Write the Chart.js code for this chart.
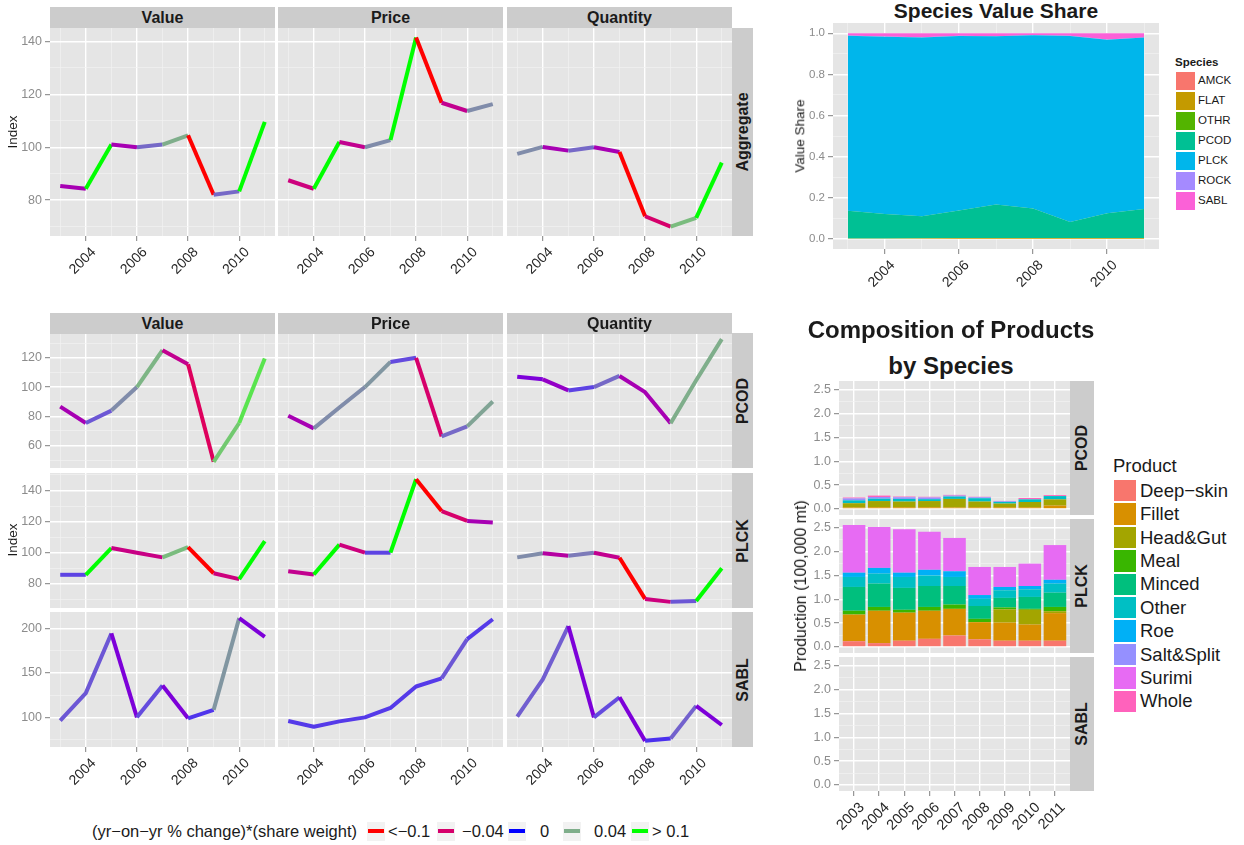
<!DOCTYPE html>
<html>
<head>
<meta charset="utf-8">
<title>Fishery indices</title>
<script src="https://cdn.jsdelivr.net/npm/chart.js@4.4.1/dist/chart.umd.min.js"></script>
<style>
  body { margin: 0; width: 1244px; height: 845px; position: relative; overflow: hidden; background: #fff;
         font-family: "Liberation Sans", Arial, Helvetica, sans-serif; }
  canvas { position: absolute; }
  .txt { position: absolute; line-height: 1; white-space: nowrap; color: #1a1a1a; }
  .box { position: absolute; }
</style>
</head>
<body>
<script>
const years = [2003, 2004, 2005, 2006, 2007, 2008, 2009, 2010, 2011];

// index series (2006 = 100); the W arrays are the segment weights (yr-on-yr % change)*(share weight)
const aggValue = [85.3, 84.3, 101.0, 100.0, 101.0, 104.5, 82.0, 83.3, 109.6];
const aggValueW = [-0.02, 0.12, -0.02, 0.02, 0.04, -0.12, 0.02, 0.12];
const aggPrice = [87.5, 84.3, 102.0, 100.0, 102.7, 141.5, 116.8, 113.7, 116.3];
const aggPriceW = [-0.035, 0.12, -0.03, 0.03, 0.12, -0.12, -0.03, 0.03];
const aggQuantity = [97.5, 100.1, 98.7, 100.0, 98.2, 73.9, 70.0, 73.3, 94.2];
const aggQuantityW = [0.03, -0.02, 0.02, -0.02, -0.12, -0.04, 0.05, 0.12];

const pcodValue = [86.6, 75.4, 83.9, 100.0, 125.2, 115.6, 48.8, 75.4, 119.5];
const pcodValueW = [-0.02, 0.015, 0.03, 0.045, -0.03, -0.05, 0.06, 0.08];
const pcodPrice = [80.4, 71.7, 86.0, 100.0, 117.2, 120.0, 66.2, 73.1, 90.1];
const pcodPriceW = [-0.02, 0.03, 0.03, 0.033, 0.012, -0.04, 0.02, 0.037];
const pcodQuantity = [107.1, 105.3, 97.7, 100.0, 107.6, 96.5, 75.2, 104.6, 132.8];
const pcodQuantityW = [-0.01, -0.015, 0.01, 0.02, -0.02, -0.02, 0.04, 0.04];

const plckValue = [85.8, 85.8, 103.0, 100.0, 97.0, 103.6, 86.8, 83.0, 107.5];
const plckValueW = [0.01, 0.12, -0.033, -0.033, 0.05, -0.12, -0.035, 0.12];
const plckPrice = [88.1, 86.0, 105.2, 100.0, 100.0, 147.3, 126.8, 120.4, 119.4];
const plckPriceW = [-0.03, 0.12, -0.035, 0.01, 0.12, -0.12, -0.04, -0.02];
const plckQuantity = [97.0, 99.7, 98.0, 100.0, 96.8, 70.3, 68.4, 69.0, 90.0];
const plckQuantityW = [0.03, -0.025, 0.025, -0.03, -0.12, -0.035, 0.015, 0.12];

const sablValue = [96.3, 127.2, 194.3, 100.0, 135.9, 98.9, 108.4, 211.5, 190.5];
const sablValueW = [0.015, 0.015, -0.01, 0.012, -0.01, 0.007, 0.033, -0.01];
const sablPrice = [95.9, 89.5, 95.5, 100.0, 110.6, 134.7, 143.8, 187.9, 210.2];
const sablPriceW = [0.008, 0.008, 0.008, 0.008, 0.008, 0.008, 0.015, 0.008];
const sablQuantity = [100.8, 142.6, 202.6, 100.0, 122.6, 73.6, 76.2, 112.9, 91.4];
const sablQuantityW = [0.017, 0.017, -0.01, 0.012, -0.01, 0.006, 0.018, -0.01];

const aggTicks = [70, 80, 90, 100, 110, 120, 130, 140];
const pcodTicks = [50, 60, 70, 80, 90, 100, 110, 120, 130];
const plckTicks = [70, 80, 90, 100, 110, 120, 130, 140, 150];
const sablTicks = [75, 100, 125, 150, 175, 200];

const changeBreaks = [-0.1, -0.04, 0, 0.04, 0.1];
const changeColours = ['#FF0000', '#D6006B', '#0000FF', '#7FAE8B', '#00FF00'];
const changeLabels = ['<\u22120.1', '\u22120.04', '0', '0.04', '> 0.1'];

// species value share
const species = ['AMCK', 'FLAT', 'OTHR', 'PCOD', 'PLCK', 'ROCK', 'SABL'];
const speciesColours = ['#F8766D', '#C49A00', '#53B400', '#00C094', '#00B6EB', '#A58AFF', '#FB61D7'];
const shareAMCK = [0, 0, 0, 0, 0, 0, 0, 0, 0];
const shareFLAT = [0.001, 0.001, 0.002, 0.004, 0.004, 0.003, 0.003, 0.004, 0.004];
const shareOTHR = [0, 0, 0, 0, 0, 0, 0, 0, 0];
const sharePCOD = [0.135, 0.119, 0.108, 0.133, 0.162, 0.144, 0.079, 0.120, 0.141];
const sharePLCK = [0.852, 0.863, 0.870, 0.850, 0.819, 0.843, 0.905, 0.845, 0.834];
const shareROCK = [0.001, 0.001, 0.001, 0.001, 0.001, 0.001, 0.001, 0.001, 0.001];
const shareSABL = [0.011, 0.016, 0.019, 0.012, 0.014, 0.009, 0.012, 0.030, 0.020];
const shareTicks = [0, 0.1, 0.2, 0.3, 0.4, 0.5, 0.6, 0.7, 0.8, 0.9, 1.0];

// production by product (100,000 mt), rows follow `products`
const products = ['Deep\u2212skin', 'Fillet', 'Head&Gut', 'Meal', 'Minced', 'Other', 'Roe', 'Salt&Split', 'Surimi', 'Whole'];
const productColours = ['#F8766D', '#D89000', '#A3A500', '#39B600', '#00BF7D', '#00BFC4', '#00B0F6', '#9590FF', '#E76BF3', '#FF62BC'];
const pcodProduction = [
  [0, 0, 0, 0, 0, 0, 0, 0, 0],
  [0.03, 0.035, 0.035, 0.035, 0.03, 0.035, 0.035, 0.035, 0.07],
  [0.09, 0.13, 0.12, 0.13, 0.18, 0.12, 0.077, 0.11, 0.13],
  [0, 0, 0, 0, 0, 0, 0, 0, 0],
  [0, 0, 0, 0, 0, 0, 0, 0, 0],
  [0.06, 0.05, 0.055, 0.04, 0.05, 0.07, 0.035, 0.056, 0.07],
  [0, 0, 0, 0, 0, 0, 0, 0, 0],
  [0.04, 0.035, 0.035, 0.035, 0.02, 0.02, 0.014, 0, 0],
  [0, 0, 0, 0, 0, 0, 0, 0, 0],
  [0.02, 0.03, 0.015, 0.015, 0.015, 0.01, 0.007, 0.028, 0.02]
];
const plckProduction = [
  [0.12, 0.08, 0.13, 0.17, 0.24, 0.16, 0.13, 0.13, 0.13],
  [0.56, 0.68, 0.59, 0.59, 0.56, 0.36, 0.38, 0.34, 0.58],
  [0, 0, 0, 0, 0, 0, 0.28, 0.31, 0.04],
  [0.08, 0.08, 0.06, 0.08, 0.09, 0.07, 0.04, 0.02, 0.09],
  [0.50, 0.49, 0.46, 0.44, 0.39, 0.27, 0.20, 0.25, 0.30],
  [0.21, 0.21, 0.23, 0.22, 0.19, 0.15, 0.16, 0.16, 0.19],
  [0.09, 0.12, 0.09, 0.12, 0.12, 0.08, 0.07, 0.07, 0.08],
  [0, 0, 0, 0, 0, 0, 0, 0, 0],
  [1.00, 0.86, 0.91, 0.80, 0.70, 0.59, 0.42, 0.47, 0.73],
  [0, 0, 0, 0, 0, 0, 0, 0, 0]
];
const sablProduction = [
  [0, 0, 0, 0, 0, 0, 0, 0, 0],
  [0, 0, 0, 0, 0, 0, 0, 0, 0],
  [0, 0, 0, 0, 0, 0, 0, 0, 0],
  [0, 0, 0, 0, 0, 0, 0, 0, 0],
  [0, 0, 0, 0, 0, 0, 0, 0, 0],
  [0.015, 0.015, 0.015, 0.015, 0.015, 0.015, 0.015, 0.015, 0.015],
  [0, 0, 0, 0, 0, 0, 0, 0, 0],
  [0, 0, 0, 0, 0, 0, 0, 0, 0],
  [0, 0, 0, 0, 0, 0, 0, 0, 0],
  [0, 0, 0, 0, 0, 0, 0, 0, 0]
];
const prodTicks = [0, 0.25, 0.5, 0.75, 1.0, 1.25, 1.5, 1.75, 2.0, 2.25, 2.5];

const FONT = '"Liberation Sans", Arial, Helvetica, sans-serif';

// ---- colour scale, interpolated in Lab like ggplot's gradientn
function hexToLab(h) {
  const c = [1, 3, 5].map(i => parseInt(h.substr(i, 2), 16) / 255)
    .map(v => v <= 0.04045 ? v / 12.92 : Math.pow((v + 0.055) / 1.055, 2.4));
  const X = (0.4124 * c[0] + 0.3576 * c[1] + 0.1805 * c[2]) / 0.95047;
  const Y = 0.2126 * c[0] + 0.7152 * c[1] + 0.0722 * c[2];
  const Z = (0.0193 * c[0] + 0.1192 * c[1] + 0.9505 * c[2]) / 1.08883;
  const f = t => t > 0.008856 ? Math.cbrt(t) : 7.787 * t + 16 / 116;
  return [116 * f(Y) - 16, 500 * (f(X) - f(Y)), 200 * (f(Y) - f(Z))];
}
function labToRgb(L, a, b) {
  const fy = (L + 16) / 116, fx = fy + a / 500, fz = fy - b / 200;
  const inv = t => t * t * t > 0.008856 ? t * t * t : (t - 16 / 116) / 7.787;
  const X = inv(fx) * 0.95047, Y = inv(fy), Z = inv(fz) * 1.08883;
  const lin = [3.2406 * X - 1.5372 * Y - 0.4986 * Z, -0.9689 * X + 1.8758 * Y + 0.0415 * Z, 0.0557 * X - 0.2040 * Y + 1.0570 * Z];
  const s = v => { v = Math.min(1, Math.max(0, v)); v = v <= 0.0031308 ? 12.92 * v : 1.055 * Math.pow(v, 1 / 2.4) - 0.055; return Math.round(v * 255); };
  return 'rgb(' + lin.map(s).join(',') + ')';
}
const changeLab = changeColours.map(hexToLab);
function changeColour(w) {
  w = Math.max(changeBreaks[0], Math.min(changeBreaks[changeBreaks.length - 1], w));
  let i = 0;
  while (i < changeBreaks.length - 2 && w > changeBreaks[i + 1]) i++;
  const t = (w - changeBreaks[i]) / (changeBreaks[i + 1] - changeBreaks[i]);
  const a = changeLab[i], b = changeLab[i + 1];
  return labToRgb(a[0] + (b[0] - a[0]) * t, a[1] + (b[1] - a[1]) * t, a[2] + (b[2] - a[2]) * t);
}

// ---- helpers
function addText(str, x, y, size, o) {
  o = o || {};
  const d = document.createElement('div');
  d.className = 'txt';
  d.textContent = str;
  d.style.left = x + 'px';
  d.style.top = y + 'px';
  d.style.fontSize = size + 'px';
  if (o.bold) d.style.fontWeight = 'bold';
  if (o.colour) d.style.color = o.colour;
  d.style.transform = 'translate(' + (o.left ? '0' : '-50%') + ',-50%)' + (o.rotate ? ' rotate(-90deg)' : '');
  document.body.appendChild(d);
}
function addBox(x, y, w, h, colour, extra) {
  const d = document.createElement('div');
  d.className = 'box';
  d.style.cssText = 'left:' + x + 'px;top:' + y + 'px;width:' + w + 'px;height:' + h + 'px;background:' + colour + ';' + (extra || '');
  document.body.appendChild(d);
}
function addStrip(str, x, y, w, h, vertical) {
  addBox(x, y, w, h, '#CCCCCC');
  addText(str, x + w / 2, y + h / 2 + (vertical ? 0 : 0.5), 16, { bold: true, rotate: vertical });
}
function paddedRange(arrs, lo0, hi0) {
  const all = arrs.flat();
  const lo = lo0 !== undefined ? lo0 : Math.min(...all), hi = hi0 !== undefined ? hi0 : Math.max(...all);
  const pad = (hi - lo) * 0.05;
  return [lo - pad, hi + pad];
}

const panelBg = {
  id: 'panelBg',
  beforeDraw(chart) {
    const a = chart.chartArea, ctx = chart.ctx;
    ctx.save();
    ctx.fillStyle = '#E5E5E5';
    ctx.fillRect(a.left, a.top, a.right - a.left, a.bottom - a.top);
    ctx.restore();
  }
};

function axisOptions(a, size, horizontal) {
  const isMajor = c => c.tick !== undefined && a.major(c.tick.value);
  return {
    type: 'linear', position: horizontal ? 'bottom' : 'left',
    min: a.min, max: a.max, offset: false, stacked: !!a.stacked,
    afterBuildTicks: s => { s.ticks = a.ticks.map(v => ({ value: v })); },
    afterFit: s => {
      if (horizontal) s.height = size; else s.width = size;
      s.paddingLeft = s.paddingRight = s.paddingTop = s.paddingBottom = 0;
    },
    border: { display: false },
    grid: {
      offset: false,
      color: c => isMajor(c) ? '#FFFFFF' : '#F2F2F2',
      lineWidth: c => isMajor(c) ? 1.4 : 0.7,
      drawTicks: a.show, tickLength: 5, tickWidth: 1,
      tickColor: c => isMajor(c) ? '#7F7F7F' : 'rgba(0,0,0,0)'
    },
    ticks: {
      display: a.show, autoSkip: false,
      minRotation: horizontal ? 45 : 0, maxRotation: horizontal ? 45 : 0,
      padding: 3, labelOffset: horizontal ? 8 : 0,
      color: a.colour, font: { family: FONT, size: a.size },
      callback: v => a.major(v) ? a.fmt(v) : ''
    }
  };
}

function makeChart(p) {
  const W = p.w + p.yw, H = p.h + p.xh;
  const cv = document.createElement('canvas');
  cv.width = W; cv.height = H;
  cv.style.left = (p.x - p.yw) + 'px';
  cv.style.top = p.y + 'px';
  cv.style.width = W + 'px';
  cv.style.height = H + 'px';
  document.body.appendChild(cv);
  return new Chart(cv, {
    type: p.type,
    data: { labels: years, datasets: p.datasets },
    options: {
      responsive: false, animation: false, devicePixelRatio: 1, events: [],
      layout: { padding: 0 },
      plugins: { legend: { display: false }, tooltip: { enabled: false } },
      scales: { x: axisOptions(p.xAxis, p.xh, true), y: axisOptions(p.yAxis, p.yw, false) }
    },
    plugins: [panelBg]
  });
}

function lineSet(values, weights) {
  return {
    data: values, borderWidth: 4, pointRadius: 0, pointHoverRadius: 0, tension: 0, fill: false,
    borderCapStyle: 'butt', borderJoinStyle: 'round',
    borderColor: changeColour(weights[0]),
    segment: { borderColor: c => changeColour(weights[c.p0DataIndex]) }
  };
}

const evenYear = v => v % 2 === 0;
const yearAxis = (show) => ({ min: 2002.6, max: 2011.4, ticks: years, major: evenYear, fmt: String, show: show, size: 14, colour: '#262626' });

// ---- index panels (Value / Price / Quantity)
const cols = [50, 278, 507];
const colW = 225;
const measures = ['Value', 'Price', 'Quantity'];
const lineRows = [
  { name: 'Aggregate', y: 28, h: 208, ticks: aggTicks, major: v => v % 20 === 0, showX: true,
    series: [[aggValue, aggValueW], [aggPrice, aggPriceW], [aggQuantity, aggQuantityW]] },
  { name: 'PCOD', y: 333, h: 135, ticks: pcodTicks, major: v => v % 20 === 0, showX: false,
    series: [[pcodValue, pcodValueW], [pcodPrice, pcodPriceW], [pcodQuantity, pcodQuantityW]] },
  { name: 'PLCK', y: 473, h: 135, ticks: plckTicks, major: v => v % 20 === 0, showX: false,
    series: [[plckValue, plckValueW], [plckPrice, plckPriceW], [plckQuantity, plckQuantityW]] },
  { name: 'SABL', y: 612, h: 135, ticks: sablTicks, major: v => v % 50 === 0, showX: true,
    series: [[sablValue, sablValueW], [sablPrice, sablPriceW], [sablQuantity, sablQuantityW]] }
];

lineRows.forEach(row => {
  const [lo, hi] = paddedRange(row.series.map(s => s[0]));
  row.series.forEach((s, i) => {
    makeChart({
      x: cols[i], y: row.y, w: colW, h: row.h, yw: i === 0 ? 40 : 0, xh: row.showX ? 52 : 0,
      type: 'line', datasets: [lineSet(s[0], s[1])],
      xAxis: yearAxis(row.showX),
      yAxis: { min: lo, max: hi, ticks: row.ticks, major: row.major, fmt: String, show: i === 0, size: 12.5, colour: '#8C8C8C' }
    });
  });
  addStrip(row.name, 732, row.y, 21, row.h, true);
});
[7, 313].forEach(y => measures.forEach((m, i) => addStrip(m, cols[i], y, colW, 21, false)));
addText('Index', 12.5, 132, 13.5, { rotate: true });
addText('Index', 12.5, 540, 13.5, { rotate: true });

// ---- species value share
const shares = [shareAMCK, shareFLAT, shareOTHR, sharePCOD, sharePLCK, shareROCK, shareSABL];
makeChart({
  x: 833, y: 23, w: 326, h: 226, yw: 36, xh: 52, type: 'line',
  datasets: shares.map((d, k) => ({
    data: d, fill: k === 0 ? 'origin' : '-1', backgroundColor: speciesColours[k],
    borderColor: 'rgba(0,0,0,0)', borderWidth: 0, pointRadius: 0, tension: 0
  })),
  xAxis: yearAxis(true),
  yAxis: { min: -0.05, max: 1.05, ticks: shareTicks, major: v => Math.round(v * 10) % 2 === 0,
           fmt: v => v.toFixed(1), show: true, size: 11.5, colour: '#8C8C8C', stacked: true }
});
addText('Species Value Share', 996, 10, 21, { bold: true });
addText('Value Share', 800, 136, 13.5, { rotate: true });
addText('Species', 1175, 63, 11.5, { bold: true, left: true });
species.forEach((s, k) => {
  addBox(1175, 71 + 20 * k, 21, 20, speciesColours[k], 'box-sizing:border-box;border:0.5px solid #fff;');
  addText(s, 1198, 81 + 20 * k, 11.5, { left: true });
});

// ---- composition of products
const barRows = [
  { name: 'PCOD', y: 381, data: pcodProduction, showX: false },
  { name: 'PLCK', y: 519, data: plckProduction, showX: false },
  { name: 'SABL', y: 657, data: sablProduction, showX: true }
];
const stackTotals = barRows.flatMap(r => years.map((_, j) => r.data.reduce((s, p) => s + p[j], 0)));
const [pLo, pHi] = paddedRange([stackTotals], 0);
barRows.forEach(row => {
  makeChart({
    x: 839, y: row.y, w: 231, h: 134, yw: 34, xh: row.showX ? 56 : 0, type: 'bar',
    datasets: products.map((p, k) => ({
      label: p, data: row.data[k], backgroundColor: productColours[k], borderWidth: 0,
      barPercentage: 0.9, categoryPercentage: 1
    })),
    xAxis: { min: 2002.4, max: 2011.6, ticks: years, major: () => true, fmt: String, show: row.showX,
             size: 14.5, colour: '#262626', stacked: true },
    yAxis: { min: pLo, max: pHi, ticks: prodTicks, major: v => Number.isInteger(v * 2),
             fmt: v => v.toFixed(1), show: true, size: 12.5, colour: '#8C8C8C', stacked: true }
  });
  addStrip(row.name, 1070, row.y, 24, 134, true);
});
addText('Composition of Products', 951, 330, 24, { bold: true });
addText('by Species', 951, 366, 24, { bold: true });
addText('Production (100,000 mt)', 801, 586, 16, { rotate: true });
addText('Product', 1113, 466, 18.5, { left: true });
products.forEach((p, k) => {
  const y = 479 + 23.4 * k;
  addBox(1113, y, 24, 23.4, productColours[k], 'box-sizing:border-box;border:0.5px solid #fff;');
  addText(p, 1140, y + 11.7, 18.5, { left: true });
});

// ---- colour legend
addText('(yr\u2212on\u2212yr % change)*(share weight)', 92, 831, 16.5, { left: true });
const legendKeyX = [367, 437, 508, 563, 631];
const legendLabelX = [388, 462, 540, 594, 652];
changeBreaks.forEach((b, k) => {
  addBox(legendKeyX[k], 821.5, 18, 19, '#F2F2F2');
  addBox(legendKeyX[k] + 1, 829, 16, 4, changeColour(b));
  addText(changeLabels[k], legendLabelX[k], 831, 16.5, { left: true });
});
</script>
</body>
</html>
